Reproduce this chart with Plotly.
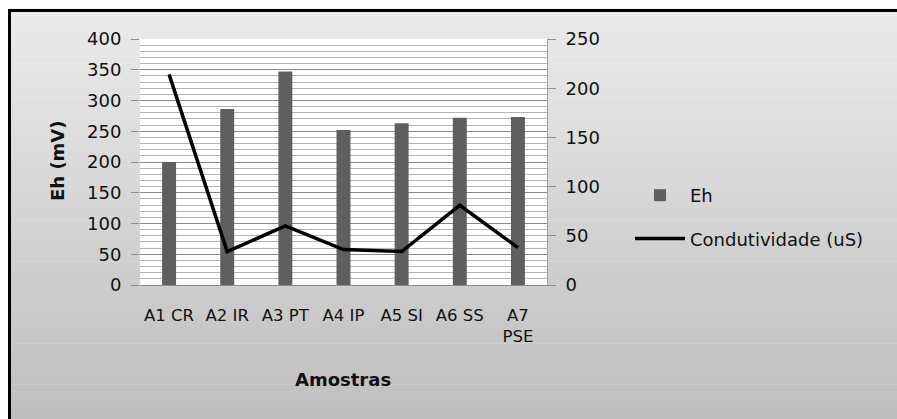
import plotly.graph_objects as go

# ---- data ----
categories = ["A1 CR", "A2 IR", "A3 PT", "A4 IP", "A5 SI", "A6 SS", "A7<br>PSE"]
eh_values = [200, 286, 347, 252, 263, 272, 273]
cond_values = [214, 34, 60, 36, 34, 81, 38]
series_names = ["Eh", "Condutividade (uS)"]
y_title = "Eh (mV)"
x_title = "Amostras"

W, H = 897, 419
FONT = "DejaVu Sans"

def px(x):
    return x / W

def py(y):
    return (H - y) / H

fig = go.Figure()
fig.add_trace(go.Bar(
    x=categories, y=eh_values, name=series_names[0],
    marker=dict(color="#5f5f5f", line=dict(width=0)),
    legendgroup="a",
))
fig.add_trace(go.Scatter(
    x=categories, y=cond_values, name=series_names[1], yaxis="y2",
    mode="lines", line=dict(color="#000000", width=3.5),
    legendgroup="b",
))

# background gradient + frame
shapes = []
n = 60
top, bot = 9.0, 419.0
c0, c1 = 235, 190
for i in range(n):
    y0 = top + (bot - top) * i / n
    y1 = top + (bot - top) * (i + 1) / n
    c = round(c0 + (c1 - c0) * (i + 0.5) / n)
    shapes.append(dict(type="rect", xref="paper", yref="paper",
                       x0=px(8), x1=1, y0=py(y1), y1=py(y0) + 0.001,
                       fillcolor=f"rgb({c},{c},{c})", line=dict(width=0),
                       layer="below"))
# white plot area
shapes.append(dict(type="rect", xref="paper", yref="paper",
                   x0=px(140), x1=px(547), y0=py(285), y1=py(39),
                   fillcolor="white", line=dict(width=0), layer="below"))
# frame
shapes.append(dict(type="line", xref="paper", yref="paper",
                   x0=px(8), x1=1, y0=py(10.5), y1=py(10.5),
                   line=dict(color="black", width=3)))
shapes.append(dict(type="line", xref="paper", yref="paper",
                   x0=px(9.5), x1=px(9.5), y0=0, y1=py(9),
                   line=dict(color="black", width=3)))

fig.update_layout(
    width=W, height=H,
    margin=dict(l=0, r=0, t=0, b=0),
    paper_bgcolor="white",
    plot_bgcolor="rgba(0,0,0,0)",
    font=dict(family=FONT, size=16, color="#111111"),
    bargap=0.76,
    shapes=shapes,
    xaxis=dict(
        domain=[px(140), px(547)],
        showline=True, linecolor="#8c8c8c", linewidth=1,
        ticks="", showgrid=False,
        tickfont=dict(size=16.5, color="#111111"),
        ticklabelstandoff=15,
        automargin=False,
    ),
    yaxis=dict(
        domain=[py(285), py(39)],
        range=[0, 400], dtick=50,
        showline=False, ticks="outside", ticklen=8, tickcolor="#8c8c8c",
        showgrid=True, gridcolor="#8a8a8a", gridwidth=1,
        minor=dict(dtick=10, showgrid=True, gridcolor="#b4b4b4", gridwidth=1),
        zeroline=False,
        tickfont=dict(size=18, color="#111111"),
        ticklabelstandoff=6,
        automargin=False,
    ),
    yaxis2=dict(
        overlaying="y", side="right", anchor="x",
        range=[0, 250], dtick=50,
        showline=True, linecolor="#a0a0a0", linewidth=1,
        ticks="outside", ticklen=8, tickcolor="#8c8c8c",
        showgrid=False, zeroline=False,
        tickfont=dict(size=18, color="#111111"),
        ticklabelstandoff=6,
        automargin=False,
    ),
    legend=dict(
        x=px(630), y=py(177), xanchor="left", yanchor="top",
        bgcolor="rgba(0,0,0,0)", borderwidth=0,
        font=dict(size=18, color="#111111"),
        itemwidth=50, tracegroupgap=17,
    ),
    annotations=[
        dict(text=f"<b>{y_title}</b>", xref="paper", yref="paper",
             x=px(57), y=py(161), textangle=-90, showarrow=False,
             font=dict(size=18, color="#111111"),
             xanchor="center", yanchor="middle"),
        dict(text=f"<b>{x_title}</b>", xref="paper", yref="paper",
             x=px(343), y=py(379), showarrow=False,
             font=dict(size=18, color="#111111"),
             xanchor="center", yanchor="middle"),
    ],
)

fig.write_html("out.html")
